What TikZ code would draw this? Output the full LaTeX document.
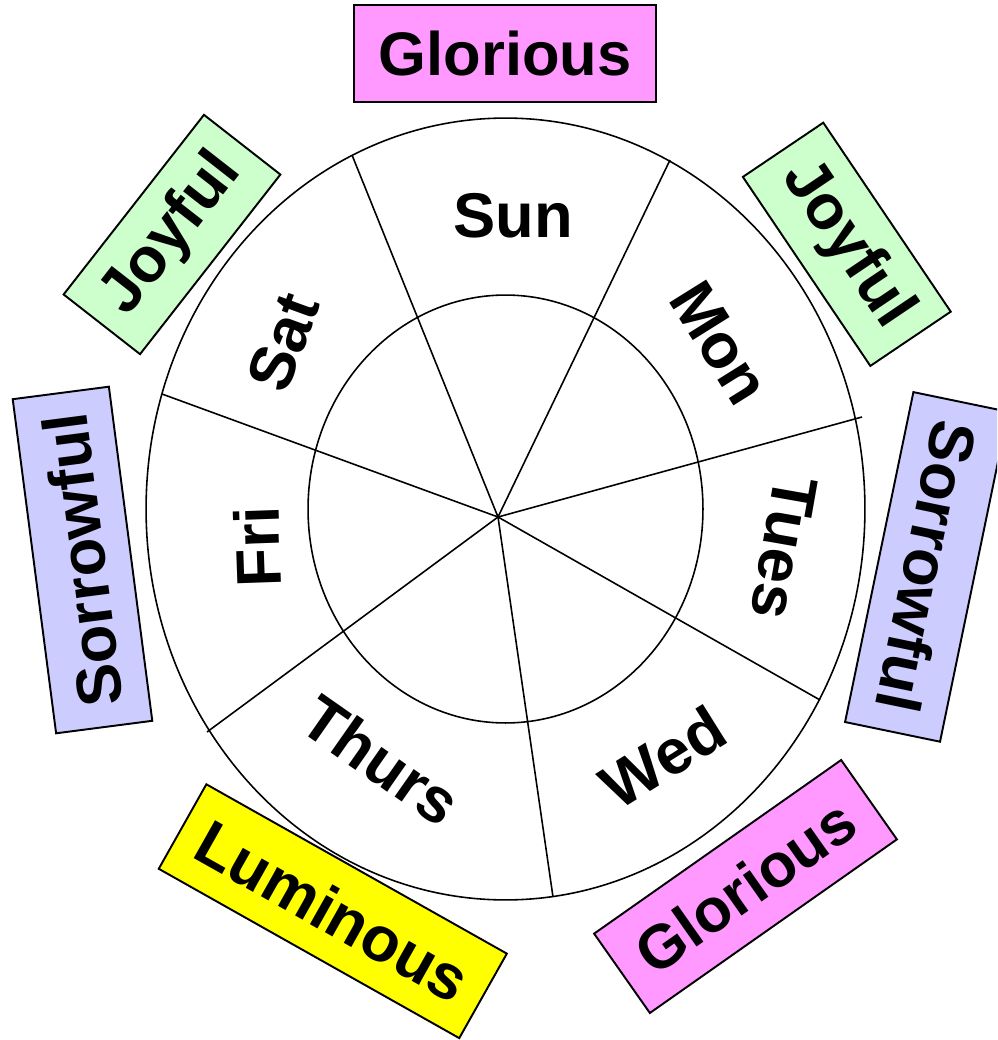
\documentclass[tikz,border=0pt]{standalone}
\usepackage{fontspec}
\setmainfont{Liberation Sans}
\usepackage{tikz}
\usetikzlibrary{positioning}

\definecolor{gloriouspink}{HTML}{FF99FF}
\definecolor{joyfulgreen}{HTML}{CCFFCC}
\definecolor{sorrowblue}{HTML}{CCCCFF}
\definecolor{luminousyellow}{HTML}{FFFF00}

\begin{document}
\begin{tikzpicture}[
  x=0.02cm, y=-0.02cm,
  mysterybox/.style={rectangle, draw=black, line width=1.1pt, inner sep=0pt,
             minimum height=1.94cm, font=\fontsize{36}{42}\bfseries\selectfont},
  glorious/.style={mysterybox, fill=gloriouspink, minimum width=6.04cm,
             font=\fontsize{35}{42}\bfseries\selectfont},
  joyful/.style={mysterybox, fill=joyfulgreen, minimum width=4.56cm},
  sorrowful/.style={mysterybox, fill=sorrowblue, minimum width=6.74cm},
  luminous/.style={mysterybox, fill=luminousyellow, minimum width=6.9cm},
  day/.style={inner sep=0pt, font=\fontsize{36}{42}\bfseries\selectfont},
  spoke/.style={line width=0.9pt}
]
\clip (0,0) rectangle (997,1040);

% mystery boxes round the wheel
\node[glorious] (glotop) at (505,53.5) {Glorious};
\node[joyful, rotate=52] (joyleft) at (172,234.5) {Joyful};
\node[joyful, rotate=-56] (joyright) at (846.8,244.3) {Joyful};
\node[sorrowful, rotate=97.4] (sorleft) at (82.5,560) {Sorrowful};
\node[sorrowful, rotate=-101.7] (sorright) at (926.7,566.9) {Sorrowful};
\node[luminous, rotate=-29.4] (lum) at (332.8,911.2) {Luminous};
\node[glorious, rotate=35.1] (globot) at (745.5,886.5) {Glorious};

% wheel
\draw[spoke] (505.5,509) ellipse [x radius=7.19cm, y radius=7.82cm];
\draw[spoke] (505.5,509) ellipse [x radius=3.95cm, y radius=4.28cm];

\coordinate (hub) at (498,517);
\foreach \i/\x/\y in {1/352/155, 2/670/160, 3/862/417, 4/820/700,
                      5/553/897, 6/207/732, 7/162/394} {
  \coordinate (rim\i) at (\x,\y);
  \draw[spoke] (hub) -- (rim\i);
}

% days
\node[day] (sun) at (513,216) {Sun};
\node[day, rotate=-58] (mon) at (720,343) {Mon};
\node[day, rotate=-100] (tues) at (784,548) {Tues};
\node[day, rotate=32] (wed) at (663,757) {Wed};
\node[day, rotate=-35] (thurs) at (381,760) {Thurs};
\node[day, rotate=92] (fri) at (257,547) {Fri};
\node[day, rotate=70] (sat) at (283,342) {Sat};

\end{tikzpicture}
\end{document}
